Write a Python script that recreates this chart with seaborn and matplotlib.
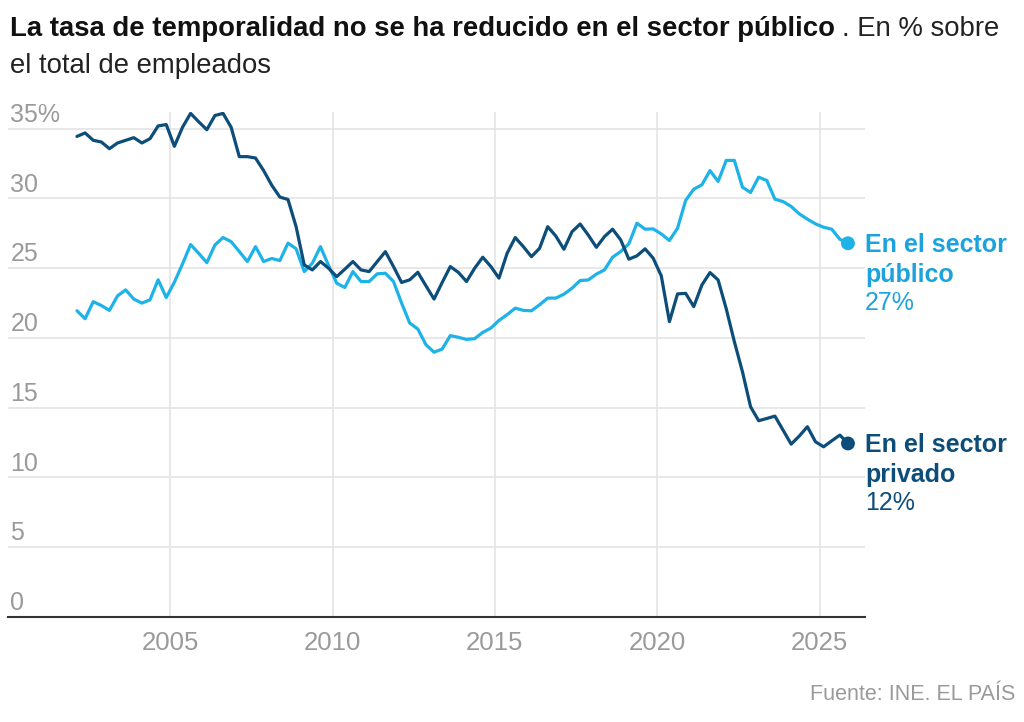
"""Tasa de temporalidad: sector público vs sector privado (EPA, trimestral)."""
import matplotlib
matplotlib.use('Agg')
import matplotlib.pyplot as plt
import numpy as np
import pandas as pd
import seaborn as sns

# trimestres 2002T1 .. 2025T4, situados en el centro de cada trimestre
fechas = np.arange(2002.125, 2026, 0.25)

privado = [34.45, 34.7, 34.17, 34.05, 33.57, 33.98, 34.17, 34.36, 33.98, 34.29,
           35.2, 35.3, 33.74, 35.1, 36.1, 35.5, 34.93, 35.95, 36.1, 35.1,
           33.0, 33.0, 32.9, 32.0, 30.95, 30.1, 29.93, 27.98, 25.24, 24.88,
           25.48, 25.0, 24.4, 24.93, 25.48, 24.88, 24.76, 25.48, 26.19, 25.12,
           23.98, 24.17, 24.71, 23.74, 22.79, 23.98, 25.12, 24.7, 24.05, 25.0,
           25.79, 25.12, 24.29, 26.07, 27.2, 26.55, 25.83, 26.43, 27.98, 27.31,
           26.36, 27.62, 28.17, 27.38, 26.5, 27.27, 27.8, 27.03, 25.65, 25.89,
           26.39, 25.72, 24.45, 21.17, 23.16, 23.2, 22.25, 23.8, 24.69, 24.16,
           22.1, 19.74, 17.58, 15.07, 14.07, 14.23, 14.4, 13.4, 12.39, 12.97,
           13.64, 12.56, 12.2, 12.63, 13.04, 12.44]

publico = [21.95, 21.38, 22.6, 22.33, 21.98, 23.02, 23.45, 22.79, 22.5, 22.74,
           24.17, 22.9, 24.0, 25.3, 26.7, 26.07, 25.4, 26.67, 27.2, 26.9,
           26.2, 25.48, 26.55, 25.48, 25.7, 25.55, 26.8, 26.4, 24.76, 25.36,
           26.55, 25.2, 23.93, 23.62, 24.76, 24.05, 24.05, 24.6, 24.64, 24.05,
           22.5, 21.07, 20.64, 19.52, 18.98, 19.21, 20.17, 20.05, 19.9, 19.95,
           20.4, 20.71, 21.26, 21.67, 22.14, 21.98, 21.95, 22.38, 22.86, 22.86,
           23.14, 23.57, 24.12, 24.16, 24.58, 24.88, 25.79, 26.2, 26.75, 28.23,
           27.8, 27.82, 27.46, 26.99, 27.87, 29.86, 30.67, 30.98, 32.0, 31.22,
           32.73, 32.73, 30.81, 30.43, 31.53, 31.29, 29.95, 29.78, 29.43, 28.9,
           28.52, 28.18, 27.94, 27.8, 27.08, 26.79]

sectores = ['público', 'privado']
etiquetas = {'público': ('En el sector', 'público', '27%'),
             'privado': ('En el sector', 'privado', '12%')}
y_ticks = [0, 5, 10, 15, 20, 25, 30, 35]
x_ticks = [2005, 2010, 2015, 2020, 2025]

colores = {'público': '#1db3e8', 'privado': '#0c4d7a'}
colores_texto = {'público': '#1ca3de', 'privado': '#0c4d7a'}
gris = '#9a9a9a'

df = pd.DataFrame({
    'fecha': np.concatenate([fechas, fechas]),
    'tasa': publico + privado,
    'sector': ['público'] * len(fechas) + ['privado'] * len(fechas),
})

sns.set_style('white')
plt.rcParams['font.family'] = ['Liberation Sans', 'DejaVu Sans']

fig = plt.figure(figsize=(10.24, 7.22), dpi=100)
ax = fig.add_axes([8 / 1024, 1 - 617 / 722, 857 / 1024, 505 / 722])

sns.lineplot(data=df, x='fecha', y='tasa', hue='sector', hue_order=sectores,
             palette=colores, linewidth=2.3, legend=False, ax=ax, zorder=3)

# punto final de cada serie
ultimos = df[df['fecha'] == fechas[-1]]
sns.scatterplot(data=ultimos, x='fecha', y='tasa', hue='sector',
                hue_order=sectores, palette=colores, s=100, linewidth=0,
                legend=False, ax=ax, zorder=4)

ax.set_xlim(2000, 2026.4)
ax.set_ylim(0, 36.2)
ax.set_xticks(x_ticks)
ax.set_yticks(y_ticks)
ax.set_yticklabels([])
ax.grid(True, color='#e4e4e4', linewidth=1.2)
ax.set_axisbelow(True)
ax.set(xlabel='', ylabel='')
ax.tick_params(axis='both', length=0)
ax.tick_params(axis='x', labelsize=18.5, labelcolor=gris, pad=10)
for lado in ['top', 'right', 'left']:
    ax.spines[lado].set_visible(False)
ax.spines['bottom'].set_color('#333333')
ax.spines['bottom'].set_linewidth(1.5)
ax.spines['bottom'].set_zorder(5)

# etiquetas del eje y encima de las líneas de rejilla
for v in y_ticks:
    txt = f'{v}%' if v == 35 else f'{v}'
    ax.text(2000.07, v + 0.5, txt, fontsize=18, color=gris,
            ha='left', va='baseline')

# etiquetas al final de cada serie
for _, fila in ultimos.iterrows():
    sector = fila['sector']
    l1, l2, valor = etiquetas[sector]
    c = colores_texto[sector]
    punto = (fila['fecha'], fila['tasa'])
    for texto, dy, peso in [(l1, -9, 'bold'), (l2, -39, 'bold'), (valor, -67, 'normal')]:
        ax.annotate(texto, punto, xytext=(17, dy), textcoords='offset pixels',
                    fontsize=18, fontweight=peso, color=c,
                    ha='left', va='baseline', annotation_clip=False)

# título: parte en negrita + parte normal
titulo = 'La tasa de temporalidad no se ha reducido en el sector público'
t1 = fig.text(10 / 1024, 1 - 36 / 722, titulo, fontsize=19.8,
              fontweight='bold', color='#111111', va='baseline')
fig.canvas.draw()
x_fin = t1.get_window_extent().x1 / fig.bbox.width
fig.text(x_fin + 7 / 1024, 1 - 36 / 722, '. En % sobre', fontsize=19.8,
         color='#222222', va='baseline')
fig.text(10 / 1024, 1 - 73 / 722, 'el total de empleados', fontsize=19.8,
         color='#222222', va='baseline')

fig.text(1015 / 1024, 1 - 695 / 722, 'Fuente: INE. EL PAÍS', fontsize=15.5,
         color=gris, ha='right', va='center')

fig.savefig('out.png', dpi=100)
